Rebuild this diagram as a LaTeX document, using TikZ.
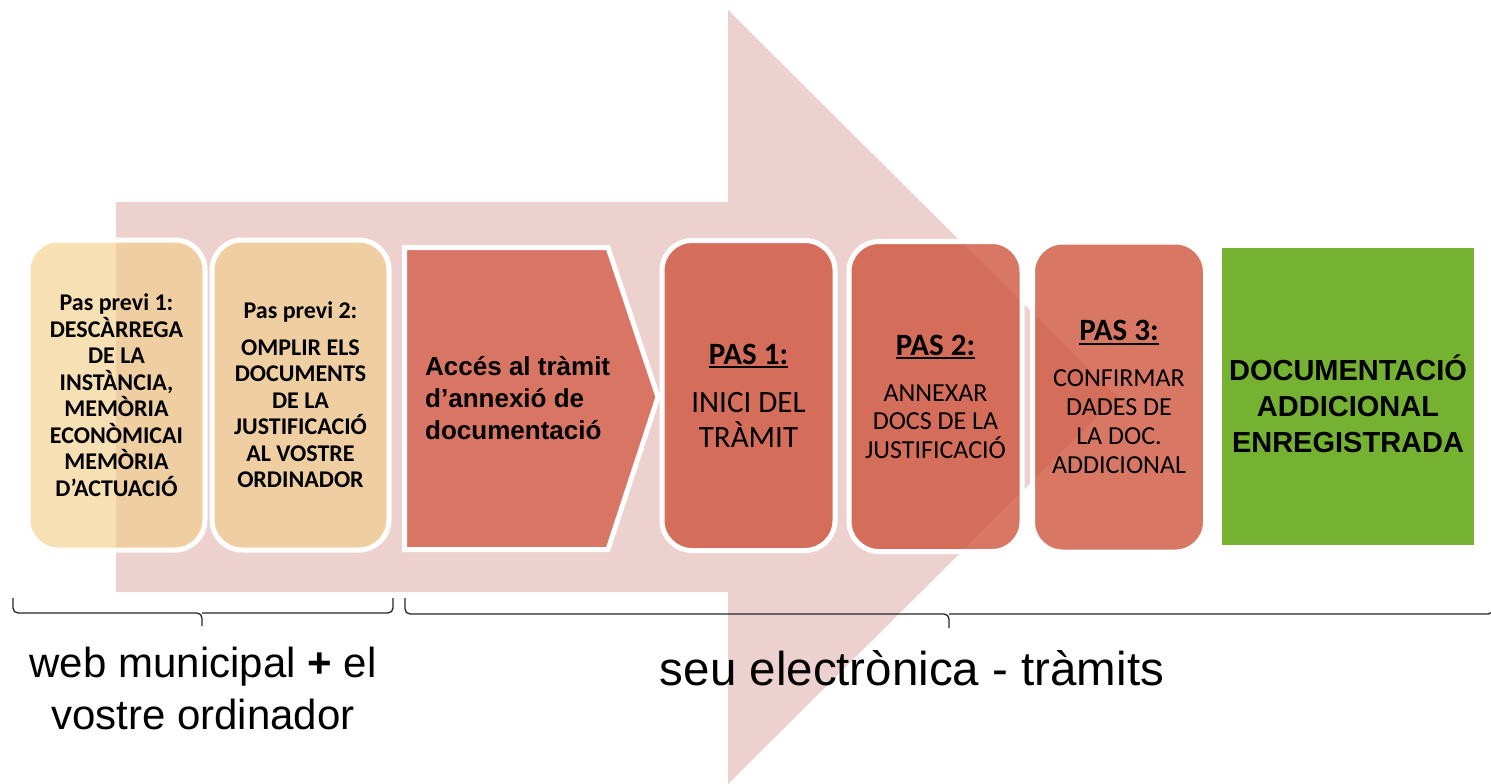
\documentclass[tikz,border=0pt]{standalone}
\usepackage{fontspec}
\setmainfont{Carlito}
\newfontfamily\arialfont{Liberation Sans}
\usepackage{xcolor}
\definecolor{fonspink}{HTML}{EDD1CF}
\definecolor{previtan}{HTML}{F1CE88}
\definecolor{pasred}{HTML}{CF553F}
\definecolor{accesred}{HTML}{D87565}
\definecolor{fetgreen}{HTML}{76B232}
\newsavebox\pasbox
\newcommand{\pasul}[1]{\sbox\pasbox{#1}\rlap{\rule[-4pt]{\wd\pasbox}{2pt}}\usebox\pasbox}
\tikzset{
	previ/.style={draw=white, line width=5pt, fill=previtan, fill opacity=0.63, text opacity=1,
			rounded corners=30pt, minimum width=177pt, minimum height=310pt, inner sep=0pt,
			align=center, font=\bfseries\fontsize{24}{26.5}\selectfont},
	pas/.style={draw=white, line width=5pt, fill=pasred, fill opacity=0.8, text opacity=1,
			rounded corners=30pt, minimum width=173pt, minimum height=310pt, inner sep=0pt,
			align=center},
	acces/.style={fill=accesred, draw=white, line width=5pt, line join=miter},
	accestext/.style={inner sep=0pt, align=left, font=\arialfont\bfseries\fontsize{26}{32}\selectfont},
	fet/.style={fill=fetgreen, minimum width=252pt, minimum height=297pt, inner sep=0pt,
			align=center, font=\arialfont\bfseries\fontsize{29}{36}\selectfont},
	zonebrace/.style={draw=black!85, line width=1.3pt, rounded corners=5pt},
	zonelabel/.style={inner sep=0pt, align=center}
}

\begin{document}
\begin{tikzpicture}[x=1pt,y=-1pt]
        \useasboundingbox (0,0) rectangle (1491,784);
        % fletxa de fons
        \fill[fonspink] (116,202) -- (728,202) -- (728,10) -- (1117,397) -- (728,784) -- (728,592) -- (116,592) -- cycle;
        % passos previs
        \node[previ] (previ1) at (116.5,395) {Pas previ 1:\\DESCÀRREGA\\DE LA\\INSTÀNCIA,\\MEMÒRIA\\ECONÒMICAI\\MEMÒRIA\\D’ACTUACIÓ};
        \node[previ] (previ2) at (300.5,395) {Pas previ 2:\\[10pt]OMPLIR ELS\\DOCUMENTS\\DE LA\\JUSTIFICACIÓ\\AL VOSTRE\\ORDINADOR};
        % acces al tramit
        \filldraw[acces] (404.5,247.5) -- (608,247.5) -- (658,397) -- (608,549.5) -- (404.5,549.5) -- cycle;
        \node[accestext, anchor=west] (acces) at (425,398) {Accés al tràmit\\d’annexió de\\documentació};
        % passos a la seu
        \node[pas, font=\fontsize{31}{35}\selectfont] (pas1) at (748.5,395.5) {\pasul{\bfseries PAS 1:}\\[13pt]INICI DEL\\TRÀMIT};
        \node[pas, font=\fontsize{26}{28.5}\selectfont] (pas2) at (935.5,396.5) {\pasul{\bfseries\fontsize{31}{35}\selectfont PAS 2:}\\[17.5pt]ANNEXAR\\DOCS DE LA\\JUSTIFICACIÓ};
        \node[pas, font=\fontsize{26}{29}\selectfont] (pas3) at (1119,397) {\pasul{\bfseries\fontsize{31}{35}\selectfont PAS 3:}\\[17pt]CONFIRMAR\\DADES DE\\LA DOC.\\ADDICIONAL};
        \node[fet] (fet) at (1348,396) {\rule{0pt}{42pt}DOCUMENTACIÓ\\ADDICIONAL\\ENREGISTRADA};
        % claus de sota
        \coordinate (web_l) at (13,598);
        \coordinate (web_r) at (393,598);
        \coordinate (web_tip) at (202,613);
        \coordinate (seu_l) at (405,598);
        \coordinate (seu_r) at (1493,598);
        \coordinate (seu_tip) at (949,614);
        \draw[zonebrace] (web_l) |- (web_tip) -- ++(0,13);
        \draw[zonebrace] (web_r) |- (web_tip);
        \draw[zonebrace] (seu_l) |- (seu_tip) -- ++(0,14);
        \draw[zonebrace] (seu_r) |- (seu_tip);
        \node[zonelabel, font=\arialfont\fontsize{42}{52}\selectfont] (web) at (203,688) {web municipal \textbf{+} el\\vostre ordinador};
        \node[zonelabel, font=\arialfont\fontsize{47.5}{57}\selectfont, anchor=base] (seu) at (912,685) {seu electrònica - tràmits};
\end{tikzpicture}
\end{document}
